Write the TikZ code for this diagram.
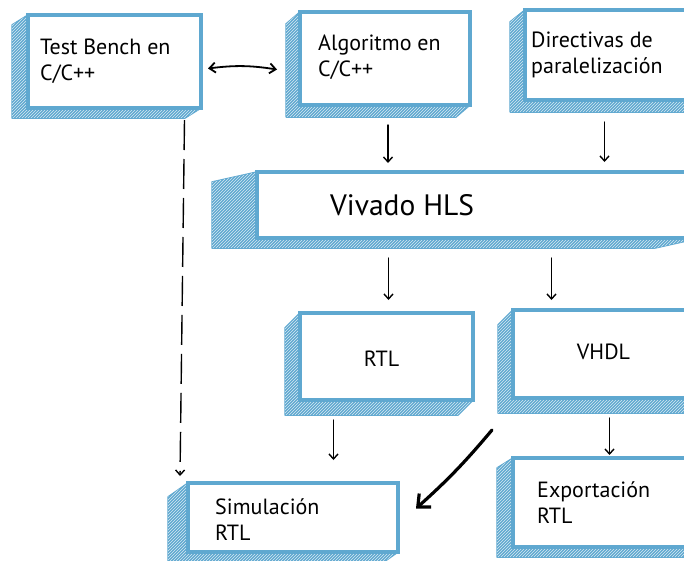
\documentclass[tikz,border=0pt]{standalone}
\usepackage{fontspec}
\setmainfont{PT Sans}
\usetikzlibrary{arrows.meta,calc,patterns,backgrounds}
\definecolor{bx}{RGB}{95,168,208}
\tikzset{
  x=1pt,y=-1pt,
  face/.style={draw=bx, line width=3.4pt, fill=white, outer sep=0pt, inner sep=0pt},
  lbl/.style={anchor=west, align=left, inner sep=0pt, font=\fontsize{22}{26}\selectfont},
  clbl/.style={align=center, inner sep=0pt, font=\fontsize{22}{26}\selectfont},
  arr/.style={line width=1.4pt, line cap=round, -{Straight Barb[length=5pt,width=9pt]}},
  darr/.style={line width=1.8pt, line cap=round, {Straight Barb[length=6pt,width=10pt]}-{Straight Barb[length=6pt,width=10pt]}},
  bigarr/.style={line width=3.2pt, line cap=round, -{Straight Barb[length=10pt,width=18pt]}},
  dasharr/.style={line width=1.4pt, dash pattern=on 30pt off 9pt, -{Straight Barb[length=5pt,width=9pt]}},
  extr/.style={fill=bx, draw=bx, line width=1.5pt, line join=round},
  hatch/.style={pattern=north east lines, pattern color=white!75!bx},
}
\newcommand\extrude[3]{%
  \path[extr] (#1.north west) -- ++(#2,#3) -- ($(#1.south west)+(#2,#3)$) -- ($(#1.south east)+(#2,#3)$) -- (#1.south east) -- (#1.south west) -- cycle;
  \path[hatch] (#1.north west) -- ++(#2,#3) -- ($(#1.south west)+(#2,#3)$) -- ($(#1.south east)+(#2,#3)$) -- (#1.south east) -- (#1.south west) -- cycle;
}
\begin{document}
\begin{tikzpicture}
\useasboundingbox (0,0) rectangle (684,560);
% faces
\node[face, minimum width=173, minimum height=93] (tb) at (114.5,61.5) {};
\node[face, minimum width=170, minimum height=93] (alg) at (385,58.5) {};
\node[face, minimum width=175, minimum height=90] (dir) at (612.5,55) {};
\node[face, minimum width=443, minimum height=66] (viv) at (478.5,205) {};
\node[face, minimum width=173, minimum height=87] (rtl) at (386.5,356.5) {};
\node[face, minimum width=187, minimum height=88] (vhdl) at (606.5,354) {};
\node[face, minimum width=210, minimum height=69] (sim) at (293,517.5) {};
\node[face, minimum width=187, minimum height=89] (exp) at (606.5,502.5) {};
% extrusions
\begin{scope}[on background layer]
  \fill[white] (0,0) rectangle (684,560);
  \extrude{tb}{-16}{10}
  \extrude{alg}{-14}{12}
  \extrude{dir}{-15}{12}
  \extrude{viv}{-45}{10}
  \extrude{rtl}{-15}{15}
  \extrude{vhdl}{-15}{15}
  \extrude{sim}{-20}{14}
  \extrude{exp}{-16}{10}
\end{scope}
% labels
\node[lbl] (tbl) at ($(tb.west)+(12,0)$) {Test Bench en\\C/C++};
\node[lbl] (algl) at ($(alg.west)+(18,-1)$) {Algoritmo en\\C/C++};
\node[lbl] (dirl) at ($(dir.west)+(6,0)$) {Directivas de\\paralelización};
\node[lbl, font=\fontsize{29.5}{34}\selectfont] (vivl) at ($(viv.west)+(73,0)$) {Vivado HLS};
\node[clbl] (rtll) at ($(rtl.center)+(-5,2)$) {RTL};
\node[clbl] (vhdll) at ($(vhdl.center)+(-3,-2)$) {VHDL};
\node[lbl] (siml) at ($(sim.west)+(27,2)$) {Simulación\\RTL};
\node[lbl] (expl) at ($(exp.west)+(24,0)$) {Exportación\\RTL};
% connectors
\draw[darr] ($(tb.east)+(7,7)$) coordinate (d1) to[bend left=8] ($(alg.west)+(-23,11)$) coordinate (d2);
\draw[arr] ($(alg.south)+(3,20)$) coordinate (a1) -- ($(a1 |- viv.north)+(0,-9)$) coordinate (a2);
\draw[arr] ($(dir.south)+(-8,22)$) coordinate (b1) -- ($(b1 |- viv.north)+(0,-10)$) coordinate (b2);
\draw[arr] ($(rtl.north)+(2,-55)$) coordinate (c1) -- ($(rtl.north)+(2,-13)$) coordinate (c2);
\draw[arr] ($(vhdl.north)+(-55,-52)$) coordinate (e1) -- ($(vhdl.north)+(-55,-10)$) coordinate (e2);
\draw[arr] ($(rtl.south)+(-53,20)$) coordinate (f1) -- ($(rtl.south)+(-53,60)$) coordinate (f2);
\draw[arr] ($(vhdl.south)+(3,20)$) coordinate (g1) -- ($(vhdl.south)+(3,57)$) coordinate (g2);
\draw[bigarr] ($(vhdl.south west)+(-21,32)$) coordinate (h1) to[bend left=4] ($(sim.east)+(18,-9)$) coordinate (h2);
\draw[dasharr] ($(tb.south)+(70,12)$) coordinate (k1) -- ($(sim.north west)+(-8,-7)$) coordinate (k2);
\end{tikzpicture}
\end{document}
